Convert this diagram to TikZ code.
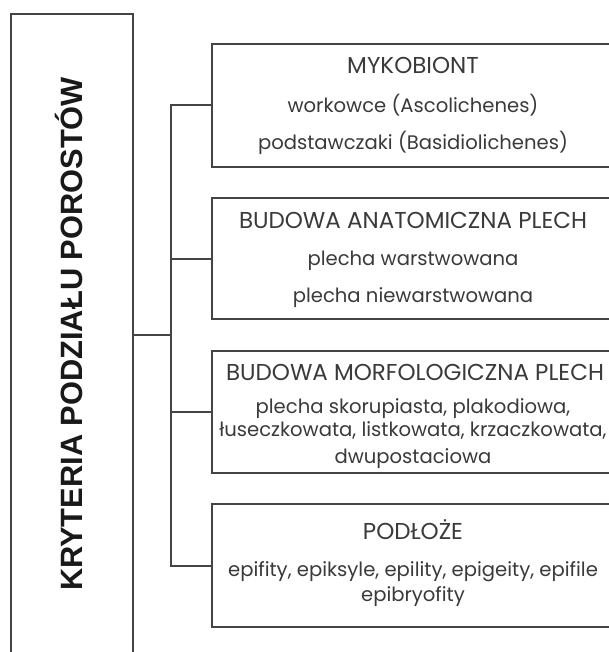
\documentclass[tikz,border=0pt]{standalone}
\usepackage{fontspec}
\setmainfont{Poppins}
\newfontfamily\boldfam{Liberation Sans}
\definecolor{linec}{HTML}{444444}
\definecolor{textc}{HTML}{3A3A3A}
\begin{document}
\begin{tikzpicture}[x=1pt,y=-1pt,
  box/.style={draw=linec, line width=2pt, anchor=north west, inner sep=0pt},
  conn/.style={draw=linec, line width=2pt},
  txt/.style={text=textc, anchor=base, inner sep=0pt, font=\fontsize{19.6}{24}\selectfont},
  ttl/.style={txt, font=\fontsize{23}{28}\selectfont}]
\useasboundingbox (0,0) rectangle (609,652);
\clip (0,0) rectangle (609,652);
\fill[white] (0,0) rectangle (609,652);
% root box
\node[box, minimum width=122pt, minimum height=700pt] (root) at (9.5,13) {};
\node[rotate=90, text=black!90, inner sep=0pt, font=\boldfam\bfseries\fontsize{30.8}{36}\selectfont] (roottxt) at (69,334) {KRYTERIA PODZIAŁU POROSTÓW};
% category boxes
\node[box, minimum width=410pt, minimum height=123pt] (b1) at (211,43) {};
\node[box, minimum width=410pt, minimum height=121pt] (b2) at (211,197) {};
\node[box, minimum width=410pt, minimum height=122pt] (b3) at (211,350) {};
\node[box, minimum width=410pt, minimum height=123pt] (b4) at (211,503) {};
% connectors
\coordinate (j) at (171,335);
\draw[conn] (root.east |- j) -- (j);
\draw[conn] (j) |- (b1.west);
\draw[conn] (j) |- (b2.west);
\draw[conn] (j) |- (b3.west);
\draw[conn] (j) |- (b4.west);
% texts
\node[ttl] (t11) at (413,74) {MYKOBIONT};
\node[txt] (t12) at (413,113) {workowce (Ascolichenes)};
\node[txt] (t13) at (413,150) {podstawczaki (Basidiolichenes)};
\node[ttl] (t21) at (413,228) {BUDOWA ANATOMICZNA PLECH};
\node[txt] (t22) at (413,265) {plecha warstwowana};
\node[txt] (t23) at (413,302) {plecha niewarstwowana};
\node[ttl] (t31) at (415,380) {BUDOWA MORFOLOGICZNA PLECH};
\node[txt] (t32) at (413,413) {plecha skorupiasta, plakodiowa,};
\node[txt] (t33) at (413,436) {łuseczkowata, listkowata, krzaczkowata,};
\node[txt] (t34) at (413,463) {dwupostaciowa};
\node[ttl] (t41) at (413,539) {PODŁOŻE};
\node[txt] (t42) at (413,576) {epifity, epiksyle, epility, epigeity, epifile};
\node[txt] (t43) at (413,601) {epibryofity};
\end{tikzpicture}
\end{document}
